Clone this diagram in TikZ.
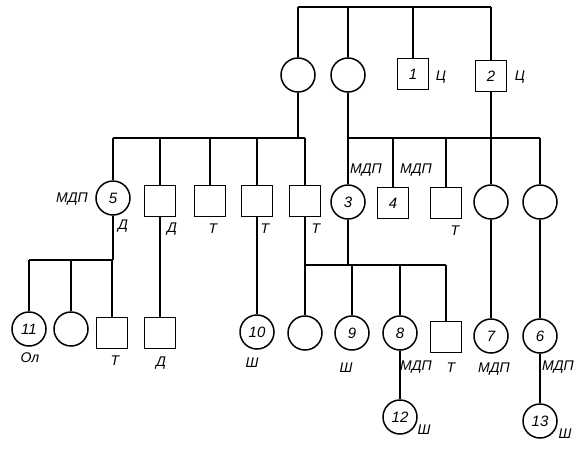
\documentclass[tikz,border=0pt]{standalone}
\usepackage{fontspec}
\setmainfont{Liberation Sans}
\begin{document}
\begin{tikzpicture}[x=1pt,y=-1pt,
  line width=1.4pt,
  fem/.style={circle,draw,line width=1.5pt,minimum size=34pt,inner sep=0pt,font=\itshape\fontsize{15}{15}\selectfont},
  mal/.style={rectangle,draw,line width=1.7pt,minimum size=31pt,inner sep=0pt,font=\itshape\fontsize{15}{15}\selectfont},
  lab/.style={inner sep=0pt,font=\itshape\fontsize{14}{14}\selectfont}]
\useasboundingbox (0,0) rectangle (580,450);
% generation I
\node[fem] (c1) at (298,75) {};
\node[fem] (c2) at (348,75) {};
\node[mal] (s1) at (413,74) {1};
\node[mal] (s2) at (491,76) {2};
\node[lab] (l1) at (441,77) {Ц};
\node[lab] (l2) at (520,77) {Ц};
\coordinate (ta) at (298,7);
\coordinate (tb) at (348,7);
\coordinate (tc) at (413,7);
\coordinate (td) at (491,7);
\draw[line width=1.8pt] (ta) -- (td);
\draw (ta) -- (c1);
\draw (tb) -- (c2);
\draw (tc) -- (s1);
\draw (td) -- (s2);
% generation II left
\node[fem] (n5) at (113,198) {5};
\node[mal] (sqD) at (160,201) {};
\node[mal] (sqTa) at (210,201) {};
\node[mal] (sqTb) at (257,201) {};
\node[mal] (sqTc) at (305,201) {};
\node[lab] (l5a) at (72,199) {МДП};
\node[lab] (l5b) at (123,226) {Д};
\node[lab] (lD) at (172,229) {Д};
\node[lab] (lTa) at (213,229) {Т};
\node[lab] (lTb) at (265,229) {Т};
\node[lab] (lTc) at (316,229) {Т};
\coordinate (la) at (113,138);
\coordinate (lb) at (305,138);
\draw (la) -- (lb);
\draw (c1) -- (c1 |- la);
\draw (la) -- (n5);
\draw (sqD |- la) -- (sqD);
\draw (sqTa |- la) -- (sqTa);
\draw (sqTb |- la) -- (sqTb);
\draw (lb) -- (sqTc);
% generation II right
\node[fem] (n3) at (348,202) {3};
\node[mal] (n4) at (393,203) {4};
\node[mal] (sqTd) at (446,203) {};
\node[fem] (c7p) at (491,202) {};
\node[fem] (c6p) at (540,202) {};
\node[lab] (l3) at (366,170) {МДП};
\node[lab] (l4) at (416,170) {МДП};
\node[lab] (lTd) at (455,231) {Т};
\coordinate (ra) at (348,138);
\coordinate (rb) at (540,138);
\draw (ra) -- (rb);
\draw (c2) -- (n3);
\draw (s2) -- (c7p);
\draw (n4 |- ra) -- (n4);
\draw (sqTd |- ra) -- (sqTd);
\draw (rb) -- (c6p);
% generation III left
\node[fem] (n11) at (29,329) {11};
\node[fem] (c3a) at (71,329) {};
\node[mal] (sqTe) at (112,333) {};
\node[mal] (sqD2) at (160,333) {};
\node[fem] (n10) at (257,332) {10};
\node[lab] (l11) at (30,358) {Ол};
\node[lab] (lTe) at (115,361) {Т};
\node[lab] (lD2) at (161,363) {Д};
\node[lab] (l10) at (252,363) {Ш};
\coordinate (ga) at (29,260);
\coordinate (gb) at (112,260);
\draw (ga) -- (gb);
\draw (n5) -- (n5 |- gb);
\draw (ga) -- (n11);
\draw (c3a |- ga) -- (c3a);
\draw (gb) -- (sqTe);
\draw (sqD) -- (sqD2);
\draw (sqTb) -- (n10);
% generation III right
\node[fem] (cr) at (305,333) {};
\node[fem] (n9) at (352,333) {9};
\node[fem] (n8) at (400,333) {8};
\node[mal] (sqTf) at (446,337) {};
\node[fem] (n7) at (491,336) {7};
\node[fem] (n6) at (540,336) {6};
\node[lab] (l9) at (346,368) {Ш};
\node[lab] (l8) at (416,367) {МДП};
\node[lab] (lTf) at (451,368) {Т};
\node[lab] (l7) at (494,369) {МДП};
\node[lab] (l6) at (558,367) {МДП};
\coordinate (ha) at (305,265);
\coordinate (hb) at (446,265);
\draw (ha) -- (hb);
\draw (sqTc) -- (cr);
\draw (n3) -- (n3 |- ha);
\draw (n9 |- ha) -- (n9);
\draw (n8 |- ha) -- (n8);
\draw (hb) -- (sqTf);
\draw (c7p) -- (n7);
\draw (c6p) -- (n6);
% generation IV
\node[fem] (n12) at (400,417) {12};
\node[fem] (n13) at (540,421) {13};
\node[lab] (l12) at (424,430) {Ш};
\node[lab] (l13) at (565,434) {Ш};
\draw (n8) -- (n12);
\draw (n6) -- (n13);
\end{tikzpicture}
\end{document}
